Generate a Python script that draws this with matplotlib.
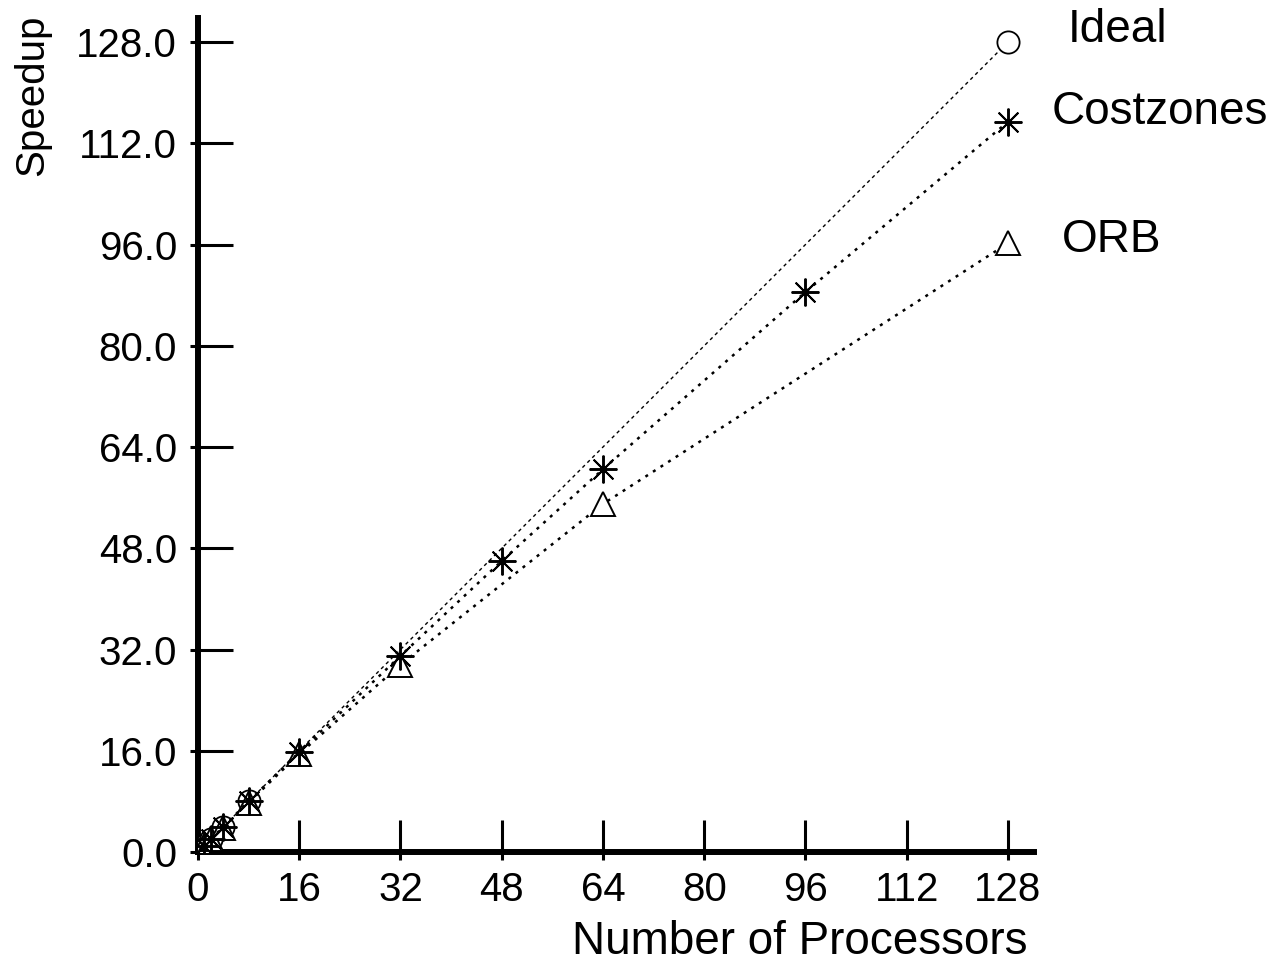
import matplotlib
matplotlib.use('Agg')
import matplotlib.pyplot as plt

plt.rcParams['font.family'] = ['Liberation Sans', 'DejaVu Sans']

# processors vs speedup
ideal_x = [1, 2, 4, 8, 128]
ideal_y = [1, 2, 4, 8, 128]
cost_x = [1, 2, 4, 8, 16, 32, 48, 64, 96, 128]
cost_y = [1, 2, 4, 8, 15.8, 31, 46, 60.5, 88.5, 115.4]
orb_x = [1, 2, 4, 8, 16, 32, 64, 128]
orb_y = [1, 2, 3.8, 7.8, 15.5, 29.6, 55, 96.2]

x_ticks = [0, 16, 32, 48, 64, 80, 96, 112, 128]
y_ticks = [0, 16, 32, 48, 64, 80, 96, 112, 128]

W, H = 1282, 966
fig = plt.figure(figsize=(W / 100, H / 100), dpi=100)
fig.patch.set_facecolor("white")
# axes box in pixels: x 198..1034, y 18..852
ax = fig.add_axes([198 / W, (H - 852) / H, (1034 - 198) / W, (852 - 18) / H])

ax.plot(ideal_x, ideal_y, color="black", linewidth=1.0, linestyle=(0, (2.5, 2.5)),
        marker="o", markersize=16, markerfacecolor="white", markeredgewidth=1.3,
        markeredgecolor="black", zorder=3)
ax.plot(orb_x, orb_y, color="black", linewidth=1.8, linestyle=(0, (1.2, 2.4)),
        marker="^", markersize=17, markerfacecolor="white", markeredgewidth=1.4,
        markeredgecolor="black", zorder=4)
ax.plot(cost_x, cost_y, color="black", linewidth=1.8, linestyle=(0, (1.2, 2.4)),
        marker=(8, 2, 0), markersize=20, markeredgewidth=1.4,
        markeredgecolor="black", zorder=5)

ax.set_xlim(0, (1034 - 198) / 6.328)
ax.set_ylim(0, (852 - 18) / 6.328)

for s in ["top", "right"]:
    ax.spines[s].set_visible(False)
for s in ["left", "bottom"]:
    ax.spines[s].set_linewidth(4.3)

ax.set_xticks(x_ticks)
ax.set_xticklabels([str(v) for v in x_ticks])
ax.set_yticks(y_ticks)
ax.set_yticklabels(["%.1f" % v for v in y_ticks])
ax.set_xticks(x_ticks, minor=True)
ax.set_yticks(y_ticks, minor=True)
ax.xaxis.remove_overlapping_locs = False
ax.yaxis.remove_overlapping_locs = False

ax.tick_params(axis="x", which="major", direction="in", length=23, width=2.2,
               labelsize=29, pad=14)
ax.tick_params(axis="y", which="major", direction="in", length=25, width=2.2,
               labelsize=29, pad=15)
ax.tick_params(axis="both", which="minor", direction="out", length=6, width=2.2)

fig.text(1027 / W, 1 - 942 / H, "Number of Processors", fontsize=33,
         ha="right", va="center")
fig.text(32 / W, 1 - 95 / H, "Speedup", fontsize=29, rotation=90,
         ha="center", va="center")

fig.text(1068 / W, 1 - 30 / H, "Ideal", fontsize=33, ha="left", va="center")
fig.text(1052 / W, 1 - 112 / H, "Costzones", fontsize=33, ha="left", va="center")
fig.text(1062 / W, 1 - 240 / H, "ORB", fontsize=33, ha="left", va="center")

fig.savefig("out.png", dpi=100, facecolor="white")
plt.close(fig)
